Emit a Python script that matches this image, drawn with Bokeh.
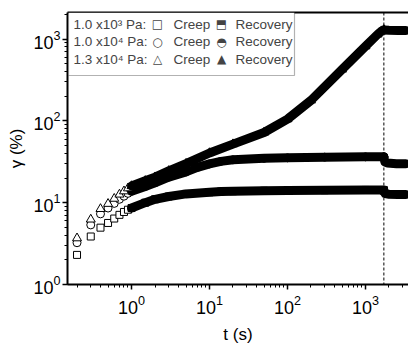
from bokeh.plotting import figure
from bokeh.models import Span, Label, BoxAnnotation, LogAxis, FixedTicker
from bokeh.embed import file_html
from bokeh.resources import INLINE

X_RANGE = (0.151, 3560)
Y_RANGE = (1, 2110)
T_SWITCH = 1720

# 1.0 x10^3 Pa  (squares)
sq_creep_t = [0.2, 0.3, 0.4, 0.5, 0.6, 0.7, 0.8, 0.9, 1.0, 1.5, 2, 3, 5, 10, 14, 20, 50, 100, 300, 1000, 1720]
sq_creep_g = [2.3, 3.86, 4.95, 5.65, 6.4, 7.1, 7.7, 8.2, 8.6, 10.0, 11.0, 11.9, 12.8, 13.4, 13.7, 13.8, 14.0, 14.1, 14.2, 14.3, 14.3]
sq_rec_t = [1720, 1780, 2000, 2600, 3300]
sq_rec_g = [14.0, 12.9, 12.7, 12.6, 12.6]

# 1.0 x10^4 Pa  (circles)
ci_creep_t = [0.2, 0.3, 0.4, 0.5, 0.6, 0.7, 0.8, 0.9, 1.0, 1.5, 2, 3, 5, 7, 10, 14, 20, 50, 100, 300, 1000, 1720]
ci_creep_g = [3.24, 5.35, 7.3, 8.6, 9.8, 11.0, 12.0, 13.0, 13.8, 15.8, 17.5, 20.5, 23.8, 27.0, 29.8, 32.0, 33.4, 34.8, 35.3, 36.0, 36.3, 36.4]
ci_rec_t = [1720, 1770, 1900, 2500, 3300]
ci_rec_g = [36.0, 31.5, 30.5, 30.0, 30.0]

# 1.3 x10^4 Pa  (triangles)
tr_creep_t = [0.2, 0.3, 0.4, 0.5, 0.6, 0.7, 0.8, 0.9, 1.0, 1.5, 2, 3, 5, 10, 20, 50, 100, 200, 500, 1000, 1430, 1600, 1720]
tr_creep_g = [3.68, 6.24, 8.4, 9.7, 11.2, 12.6, 13.8, 15.0, 16.0, 18.5, 20.5, 24.5, 30.0, 40.5, 52.0, 72.0, 105, 178, 425, 817, 1140, 1250, 1290]
tr_rec_t = [1720, 2000, 2600, 3300]
tr_rec_g = [1290, 1280, 1275, 1275]

legend_rows = ["1.0 x10\u00b3 Pa:", "1.0 x10\u2074 Pa:", "1.3 x10\u2074 Pa:"]
legend_creep_sym = ["\u25a1", "\u25cb", "\u25b3"]
legend_rec_sym = ["\u2b12", "\u25d3", "\u25b2"]

FONT = "Liberation Sans"

p = figure(width=408, height=346, x_axis_type="log", y_axis_type="log",
           x_range=X_RANGE, y_range=Y_RANGE, output_backend="svg",
           toolbar_location=None, min_border_left=67, min_border_right=0,
           min_border_top=12, min_border_bottom=58)
p.outline_line_color = None
p.grid.visible = False
p.background_fill_color = "white"

for ax in (p.xaxis[0], p.yaxis[0]):
    ax.axis_line_width = 2
    ax.major_tick_line_width = 1.5
    ax.minor_tick_line_width = 1
    ax.major_tick_in = 0
    ax.major_tick_out = 5
    ax.minor_tick_in = 0
    ax.minor_tick_out = 3
    ax.major_label_text_font = FONT
    ax.major_label_text_font_size = "18px"
    ax.major_label_text_color = "black"
    ax.axis_label_text_font = FONT
    ax.axis_label_text_font_size = "17px"
    ax.axis_label_text_font_style = "normal"
    ax.axis_label_text_color = "black"

p.xaxis.axis_label = "t (s)"
p.yaxis.axis_label = "\u03b3 (%)"
p.yaxis.major_label_standoff = 2
p.yaxis.axis_label_standoff = 4
p.xaxis.axis_label_standoff = 8

top = LogAxis(ticker=FixedTicker(ticks=[]), major_label_text_font_size="0px",
              major_tick_out=0, minor_tick_out=0, axis_line_width=2)
p.add_layout(top, "above")

# data
def creep(t, g, marker, size):
    n_dense = t.index(1.5)
    p.scatter(t, g, marker=marker, size=size, fill_color="white", line_color="black", line_width=1)
    p.line(t[n_dense - 1:], g[n_dense - 1:], line_width=9, color="black",
           line_cap="round", line_join="round")

def recovery(t, g, marker, size):
    p.line(t, g, line_width=9, color="black", line_cap="round", line_join="round")
    p.scatter(t[:1], g[:1], marker=marker, size=size, fill_color="black", line_color="black")

creep(sq_creep_t, sq_creep_g, "square", 7)
creep(ci_creep_t, ci_creep_g, "circle", 8)
creep(tr_creep_t, tr_creep_g, "triangle", 9)
recovery(sq_rec_t, sq_rec_g, "square", 7)
recovery(ci_rec_t, ci_rec_g, "circle", 8)
recovery(tr_rec_t, tr_rec_g, "triangle", 9)

p.add_layout(Span(location=T_SWITCH, dimension="height", line_dash="3 2",
                  line_width=1, line_color="black"))

# legend (screen units, relative to frame bottom-left)
FRAME_L, FRAME_B = 67, 288
box = BoxAnnotation(left=68 - FRAME_L, right=294 - FRAME_L,
                    top=FRAME_B - 16, bottom=FRAME_B - 79,
                    left_units="screen", right_units="screen",
                    top_units="screen", bottom_units="screen",
                    fill_color="white", fill_alpha=1, line_color="black", line_width=1.2)
p.add_layout(box)
row_y = [27.5, 45, 62.5]
for i in range(3):
    yy = FRAME_B - row_y[i]
    p.add_layout(Label(x=73 - FRAME_L, y=yy, x_units="screen", y_units="screen",
                       text=legend_rows[i], text_font=FONT, text_font_size="13.5px",
                       text_baseline="middle", text_align="left"))
    p.add_layout(Label(x=157 - FRAME_L, y=yy, x_units="screen", y_units="screen",
                       text=legend_creep_sym[i], text_font="DejaVu Sans", text_font_size="12px",
                       text_baseline="middle", text_align="center"))
    p.add_layout(Label(x=173 - FRAME_L, y=yy, x_units="screen", y_units="screen",
                       text="Creep", text_font=FONT, text_font_size="13.5px",
                       text_baseline="middle", text_align="left"))
    p.add_layout(Label(x=221 - FRAME_L, y=yy, x_units="screen", y_units="screen",
                       text=legend_rec_sym[i], text_font="DejaVu Sans", text_font_size="12px",
                       text_baseline="middle", text_align="center"))
    p.add_layout(Label(x=235 - FRAME_L, y=yy, x_units="screen", y_units="screen",
                       text="Recovery", text_font=FONT, text_font_size="13.5px",
                       text_baseline="middle", text_align="left"))

open("out.html", "w").write(file_html(p, INLINE))
